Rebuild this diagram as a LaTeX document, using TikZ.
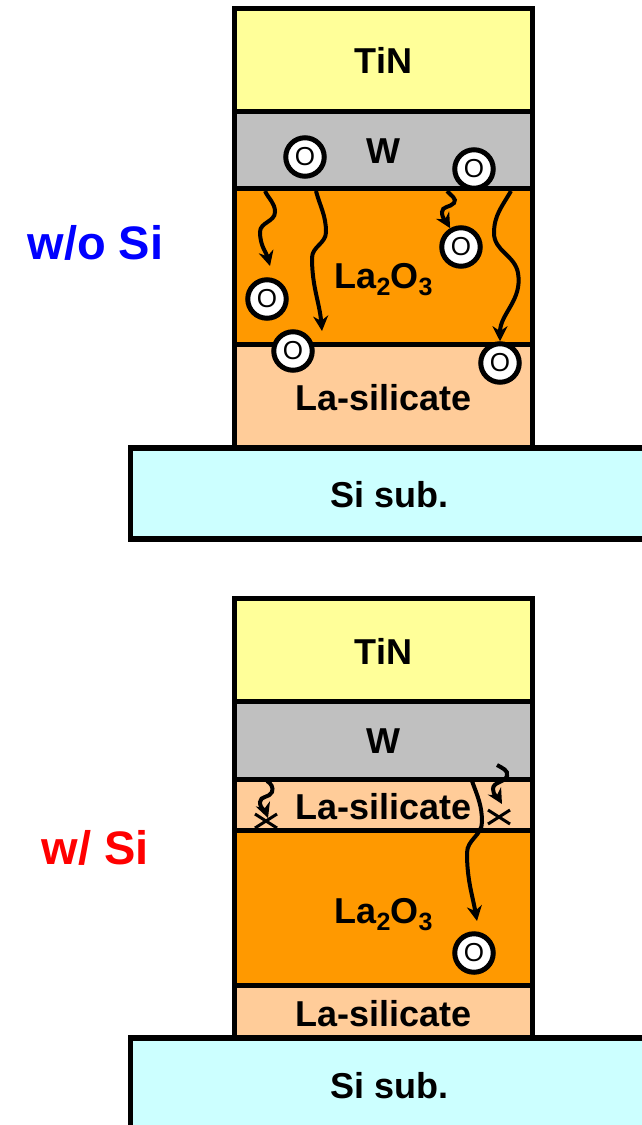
\documentclass[tikz,border=0pt]{standalone}
\usepackage{fontspec}
\setmainfont{Liberation Sans}
\usetikzlibrary{positioning,arrows.meta}
\definecolor{tincol}{HTML}{FFFF99}
\definecolor{wcol}{HTML}{C0C0C0}
\definecolor{laocol}{HTML}{FF9900}
\definecolor{silicatecol}{HTML}{FFCC99}
\definecolor{subcol}{HTML}{CCFFFF}
\tikzset{
layer/.style={
	draw, line width=5.5pt, rectangle, inner sep=0pt, outer sep=0pt,
	minimum width=298pt},
subst/.style={
	layer, minimum width=520pt, minimum height=91pt, anchor=north west},
layertext/.style={
	anchor=base, inner sep=0pt, font=\fontsize{36}{40}\selectfont\bfseries},
sidetext/.style={
	anchor=base, inner sep=0pt, font=\fontsize{47}{52}\selectfont\bfseries},
oatom/.style={
	draw, circle, fill=white, line width=5pt, minimum size=38.5pt, inner sep=0pt,
	font=\fontsize{26}{26}\selectfont},
drift/.style={
	line width=4pt, -{Stealth[length=15pt,width=15pt]}},
blocked/.style={
	line width=3pt}
}
\newcommand{\subnum}[1]{\raisebox{-7pt}{\fontsize{25}{25}\selectfont #1}}
\newcommand{\laoxide}{La\subnum{2}O\subnum{3}}

\begin{document}
\begin{tikzpicture}[x=1pt, y=-1pt]
	\useasboundingbox (0,0) rectangle (641,1125);
	% without Si
	\node[layer, fill=tincol, minimum height=103pt, anchor=north] (tina) at (383.5,8.5) {};
	\node[layer, fill=wcol, minimum height=77pt, below=0pt of tina] (wa) {};
	\node[layer, fill=laocol, minimum height=156pt, below=0pt of wa] (laoa) {};
	\node[layer, fill=silicatecol, minimum height=103pt, below=0pt of laoa] (sila) {};
	\node[subst, fill=subcol] (suba) at (130.5,448) {};
	\node[layertext] (tinatext) at (383.5,73) {TiN};
	\node[layertext] (watext) at (383.5,163) {W};
	\node[layertext] (laoatext) at (383.5,288) {\laoxide};
	\node[layertext] (silatext) at (383.5,410) {La-silicate};
	\node[layertext] (subatext) at (389.5,507) {Si sub.};
	\node[sidetext, text=blue] (nosi) at (95.5,259) {w/o Si};
	\node[oatom] (o1) at (305,157) {O};
	\node[oatom] (o2) at (474,169) {O};
	\node[oatom] (o3) at (461,247) {O};
	\node[oatom] (o4) at (267,299) {O};
	\node[oatom] (o5) at (293,351) {O};
	\node[oatom] (o6) at (500,363) {O};
	\coordinate (a1) at (265,191);
	\coordinate (a1end) at (270,266);
	\coordinate (a2) at (316,191);
	\coordinate (a2end) at (322,331);
	\coordinate (a3) at (447,191);
	\coordinate (a4) at (511,191);
	\draw[drift] (a1) to[out=-65,in=90] (275,212) to[out=-90,in=90] (260,232) to[out=-90,in=105] (a1end);
	\draw[drift] (a2) to[out=-75,in=90] (326,232) to[out=-90,in=90] (312,258) to[out=-90,in=95] (a2end);
	\draw[drift] (a3) to[out=-50,in=50] (454,203) to[out=-130,in=90] (442,212) to[out=-90,in=120] (o3);
	\draw[drift] (a4) to[out=-120,in=90] (494,233) to[out=-90,in=100] (518,273) to[out=-80,in=90] (o6);
	% with Si
	\node[layer, fill=tincol, minimum height=103pt, anchor=north] (tinb) at (383.5,598.5) {};
	\node[layer, fill=wcol, minimum height=78pt, below=0pt of tinb] (wb) {};
	\node[layer, fill=silicatecol, minimum height=51pt, below=0pt of wb] (silb) {};
	\node[layer, fill=laocol, minimum height=155pt, below=0pt of silb] (laob) {};
	\node[layer, fill=silicatecol, minimum height=52pt, below=0pt of laob] (silc) {};
	\node[subst, fill=subcol] (subb) at (130.5,1038) {};
	\node[layertext] (tinbtext) at (383.5,664) {TiN};
	\node[layertext] (wbtext) at (383.5,753) {W};
	\node[layertext] (silbtext) at (383.5,819) {La-silicate};
	\node[layertext] (laobtext) at (383.5,923) {\laoxide};
	\node[layertext] (silctext) at (383.5,1026) {La-silicate};
	\node[layertext] (subbtext) at (389.5,1098) {Si sub.};
	\node[sidetext, text=red] (withsi) at (95.5,864) {w/ Si};
	\node[oatom] (o7) at (474,953) {O};
	\coordinate (b1) at (267,781);
	\coordinate (b1end) at (268,818);
	\coordinate (b2) at (497,765);
	\coordinate (b2end) at (502,804);
	\coordinate (b3) at (472,781);
	\coordinate (b3end) at (477,921);
	\coordinate (xa) at (266,821);
	\coordinate (xb) at (499,817);
	\draw[drift] (b1) to[out=-30,in=70] (272,792) to[out=-110,in=90] (260,802) to[out=-90,in=110] (b1end);
	\draw[drift] (b2) to[out=-30,in=70] (507,776) to[out=-110,in=90] (493,789) to[out=-90,in=120] (b2end);
	\draw[drift] (b3) to[out=-70,in=90] (482,822) to[out=-90,in=90] (467,853) to[out=-90,in=100] (b3end);
	\draw[blocked] ([shift={(-11,-7)}]xa) -- ([shift={(11,7)}]xa);
	\draw[blocked] ([shift={(-11,7)}]xa) -- ([shift={(11,-7)}]xa);
	\draw[blocked] ([shift={(-11,-7)}]xb) -- ([shift={(11,7)}]xb);
	\draw[blocked] ([shift={(-11,7)}]xb) -- ([shift={(11,-7)}]xb);
\end{tikzpicture}
\end{document}
